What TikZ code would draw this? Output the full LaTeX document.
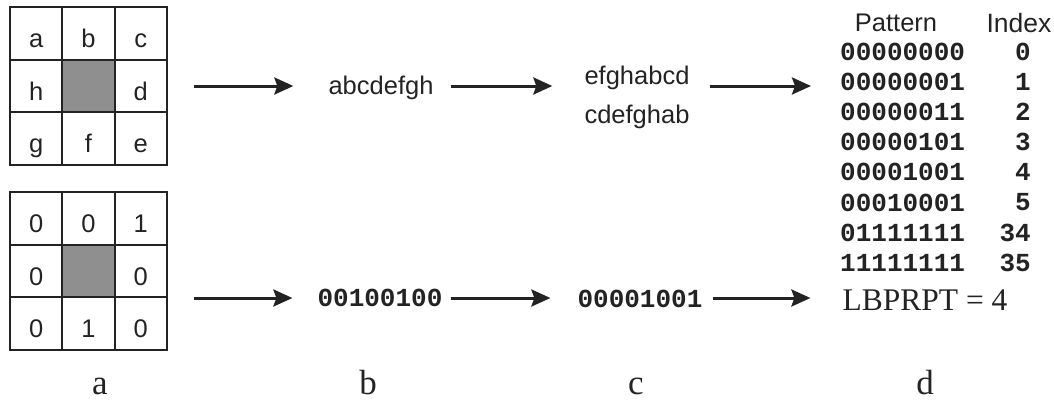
\documentclass[tikz,border=0pt]{standalone}
\usepackage{fontspec}
\setmainfont{Liberation Serif}
\newfontfamily\arialf{Liberation Sans}
\newfontfamily\courf{Liberation Mono}
\usetikzlibrary{arrows.meta}
\definecolor{cellgray}{RGB}{143,143,143}
\definecolor{ink}{RGB}{35,35,35}
\begin{document}
\begin{tikzpicture}[x=1pt,y=-1pt,
  cell/.style={draw=ink, line width=1.9pt, minimum width=52.33pt, minimum height=52.67pt,
    inner sep=0pt, text height=28pt, text depth=0pt, text=ink,
    font=\arialf\fontsize{25.5}{30}\selectfont},
  mid/.style={cell, fill=cellgray},
  txt/.style={inner sep=0pt, text=ink, font=\arialf\fontsize{25.5}{30}\selectfont},
  bin/.style={inner sep=0pt, text=ink, font=\courf\bfseries\fontsize{26}{30}\selectfont},
  ser/.style={inner sep=0pt, text=ink, font=\fontsize{31.5}{36}\selectfont},
  lab/.style={inner sep=0pt, text=ink, font=\fontsize{35}{40}\selectfont},
  arr/.style={draw=ink, line width=3pt, -{Stealth[length=19pt,width=17pt,inset=3pt]}}]
\useasboundingbox (0,0) rectangle (1054,402);
% top grid
\node[cell] (ga) at (36.17,33.33) {a};
\node[cell] (gb) at (88.5,33.33) {b};
\node[cell] (gc) at (140.83,33.33) {c};
\node[cell] (gh) at (36.17,86) {h};
\node[mid]  (gm) at (88.5,86) {};
\node[cell] (gd) at (140.83,86) {d};
\node[cell] (gg) at (36.17,138.67) {g};
\node[cell] (gf) at (88.5,138.67) {f};
\node[cell] (ge) at (140.83,138.67) {e};
% bottom grid
\node[cell] (ha) at (36.17,218.33) {0};
\node[cell] (hb) at (88.5,218.33) {0};
\node[cell] (hc) at (140.83,218.33) {1};
\node[cell] (hh) at (36.17,271) {0};
\node[mid]  (hm) at (88.5,271) {};
\node[cell] (hd) at (140.83,271) {0};
\node[cell] (hg) at (36.17,323.67) {0};
\node[cell] (hf) at (88.5,323.67) {1};
\node[cell] (he) at (140.83,323.67) {0};
% column b and c
\node[txt] (abc) at (381,88) {abcdefgh};
\node[txt] (c1) at (637,78) {efghabcd};
\node[txt] (c2) at (637,117) {cdefghab};
\node[bin] (b2) at (380,298) {00100100};
\node[bin] (c3) at (640,299) {00001001};
\node[ser] (lb) at (925,300) {LBPRPT = 4};
% table
\node[txt] (hp) at (896,23) {Pattern};
\node[txt, font=\arialf\fontsize{26.5}{30}\selectfont] (hi) at (1019,23) {Index};
\foreach \p/\i [count=\k from 0] in {00000000/0,00000001/1,00000011/2,00000101/3,00001001/4,00010001/5,01111111/34,11111111/35}{
  \node[bin, anchor=west] (p\k) at (840,52+30.1*\k) {\p};
  \node[bin, anchor=east] (i\k) at (1031,52+30.1*\k) {\i};
}
% arrows top
\draw[arr, shorten <=26pt, shorten >=35pt] (gd.east) -- (gd.east -| abc.west);
\draw[arr, shorten <=17pt, shorten >=32pt] (abc.east |- gd.east) -- (gd.east -| c1.west);
\draw[arr, shorten <=20pt, shorten >=29pt] (gd.east -| c1.east) -- (gd.east -| p1.west);
% arrows bottom
\draw[arr, shorten <=26pt, shorten >=25pt] (hd.east |- b2.west) -- (b2.west);
\draw[arr, shorten <=8pt, shorten >=27pt] (b2.east) -- (b2.east -| c3.west);
\draw[arr, shorten <=10pt, shorten >=32pt] (c3.east |- b2.east) -- (b2.east -| lb.west);
% labels
\node[lab, anchor=base] (la) at (100,394) {a};
\node[lab, anchor=base] (lbb) at (368,394) {b};
\node[lab, anchor=base] (lc) at (636,394) {c};
\node[lab, anchor=base] (ld) at (925,394) {d};
\end{tikzpicture}
\end{document}
